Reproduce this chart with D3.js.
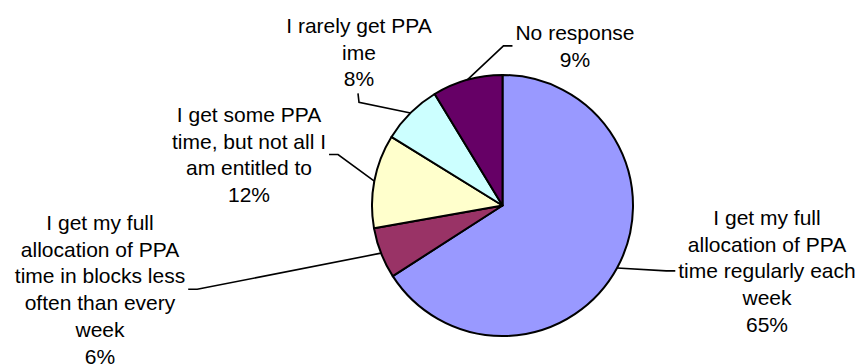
<!DOCTYPE html>
<html>
<head>
<meta charset="utf-8">
<script src="https://cdn.jsdelivr.net/npm/d3@7"></script>
<style>
  html, body { margin: 0; padding: 0; background: #fff; }
  svg { display: block; }
</style>
</head>
<body>
<svg id="chart" width="859" height="364"></svg>
<script>
// ---- data ----
const categories = [
  "I get my full\nallocation of PPA\ntime regularly each\nweek",
  "I get my full\nallocation of PPA\ntime in blocks less\noften than every\nweek",
  "I get some PPA\ntime, but not all I\nam entitled to",
  "I rarely get PPA\nime",
  "No response"
];
const values = [65.9, 6.3, 11.6, 7.5, 8.7];
const percentLabels = ["65%", "6%", "12%", "8%", "9%"];
const colors = ["#9999FF", "#993366", "#FFFFCC", "#CCFFFF", "#660066"];

// ---- layout ----
const cx = 502.5, cy = 205.5, R = 130.5;
const fontSize = 21, lineH = 26.7;
const labelLayout = [
  { x: 767, y: 225, side: "left" },
  { x: 100, y: 230, side: "right" },
  { x: 249, y: 122, side: "right" },
  { x: 359, y: 33,  side: "bottom" },
  { x: 575, y: 40,  side: "left" }
];

const svg = d3.select("#chart");
const data = categories.map((c, i) => ({ cat: c, value: values[i], pct: percentLabels[i], color: colors[i], i }));

const pie = d3.pie().sort(null).value(d => d.value);
const arcs = pie(data);
const arc = d3.arc().innerRadius(0).outerRadius(R);

const g = svg.append("g").attr("transform", `translate(${cx},${cy})`);
g.selectAll("path.slice")
  .data(arcs)
  .join("path")
  .attr("class", "slice")
  .attr("d", arc)
  .attr("fill", d => d.data.color)
  .attr("stroke", "#000")
  .attr("stroke-width", 2)
  .attr("stroke-linejoin", "round");

// labels
const labels = svg.append("g")
  .attr("font-family", "'Liberation Sans', Arial, sans-serif")
  .attr("font-size", fontSize)
  .attr("fill", "#000")
  .attr("text-anchor", "middle");

arcs.forEach((a, i) => {
  const lay = labelLayout[i];
  const lines = a.data.cat.split("\n").concat([a.data.pct]);
  const t = labels.append("text");
  lines.forEach((ln, k) => {
    t.append("tspan").attr("x", lay.x).attr("y", lay.y + k * lineH).text(ln);
  });
  const bb = t.node().getBBox();
  const mid = (a.startAngle + a.endAngle) / 2;
  const ex = cx + R * Math.sin(mid), ey = cy - R * Math.cos(mid);
  let anchor, elbow;
  if (lay.side === "left") {
    anchor = [bb.x - 3, bb.y + bb.height / 2];
    elbow = [anchor[0] - 9, anchor[1]];
  } else if (lay.side === "right") {
    anchor = [bb.x + bb.width + 3, bb.y + bb.height / 2];
    elbow = [anchor[0] + 9, anchor[1]];
  } else {
    anchor = [lay.x - 1, bb.y + bb.height + 3];
    elbow = [lay.x, anchor[1] + 9];
  }
  svg.append("path")
    .attr("d", d3.line()([anchor, elbow, [ex, ey]]))
    .attr("fill", "none")
    .attr("stroke", "#000")
    .attr("stroke-width", 1.6);
});
</script>
</body>
</html>
